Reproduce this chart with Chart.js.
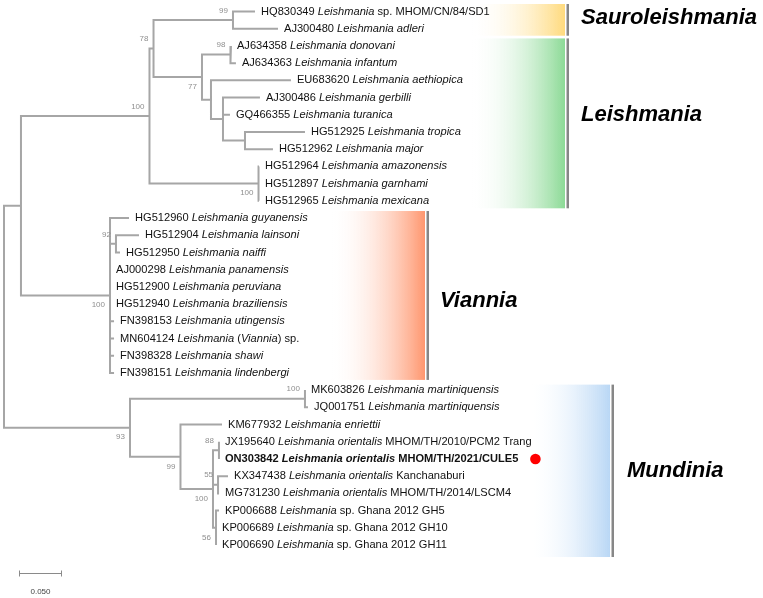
<!DOCTYPE html>
<html>
<head>
<meta charset="utf-8">
<script src="https://cdn.jsdelivr.net/npm/chart.js@4.4.0/dist/chart.umd.min.js"></script>
<style>
    html, body { margin: 0; padding: 0; background: #fff; }
    canvas { display: block; }
</style>
</head>
<body>
<canvas id="tree" width="763" height="598"></canvas>
<script>
// ── TREE DATA ─────────────────────────────────────────────────────────
// leaves, top to bottom (*...* = italic)
const LEAF_ACC = [
    'HQ830349', 'AJ300480', 'AJ634358', 'AJ634363', 'EU683620', 'AJ300486', 'GQ466355', 'HG512925',
    'HG512962', 'HG512964', 'HG512897', 'HG512965', 'HG512960', 'HG512904', 'HG512950', 'AJ000298',
    'HG512900', 'HG512940', 'FN398153', 'MN604124', 'FN398328', 'FN398151', 'MK603826', 'JQ001751',
    'KM677932', 'JX195640', 'ON303842', 'KX347438', 'MG731230', 'KP006688', 'KP006689', 'KP006690'
];
const LEAF_NAME = [
    '*Leishmania* sp. MHOM/CN/84/SD1', '*Leishmania adleri*', '*Leishmania donovani*', '*Leishmania infantum*',
    '*Leishmania aethiopica*', '*Leishmania gerbilli*', '*Leishmania turanica*', '*Leishmania tropica*',
    '*Leishmania major*', '*Leishmania amazonensis*', '*Leishmania garnhami*', '*Leishmania mexicana*',
    '*Leishmania guyanensis*', '*Leishmania lainsoni*', '*Leishmania naiffi*', '*Leishmania panamensis*',
    '*Leishmania peruviana*', '*Leishmania braziliensis*', '*Leishmania utingensis*', '*Leishmania* (*Viannia*) sp.',
    '*Leishmania shawi*', '*Leishmania lindenbergi*', '*Leishmania martiniquensis*', '*Leishmania martiniquensis*',
    '*Leishmania enriettii*', '*Leishmania orientalis* MHOM/TH/2010/PCM2 Trang', '*Leishmania orientalis* MHOM/TH/2021/CULE5',
    '*Leishmania orientalis* Kanchanaburi', '*Leishmania orientalis* MHOM/TH/2014/LSCM4',
    '*Leishmania* sp. Ghana 2012 GH5', '*Leishmania* sp. Ghana 2012 GH10', '*Leishmania* sp. Ghana 2012 GH11'
];
const LEAF_PARENT = [
    'SAU', 'SAU', 'DON', 'DON', 'N1', 'N2', 'N2', 'N3', 'N3', 'MEX', 'MEX', 'MEX', 'V', 'N92', 'N92', 'V',
    'V', 'V', 'V', 'V', 'V', 'V', 'MART', 'MART', 'C', 'E', 'E', 'F', 'F', 'G', 'G', 'G'
];
const LEAF_LEN = [
    0.0262, 0.0536, 0.0006, 0.0065, 0.0952, 0.0440, 0.0083, 0.0714,
    0.0333, 0.0006, 0.0006, 0.0006, 0.0226, 0.0274, 0.0048, 0.0000,
    0.0000, 0.0000, 0.0048, 0.0048, 0.0048, 0.0048, 0.0000, 0.0036,
    0.0494, 0.0000, 0.0000, 0.0119, 0.0012, 0.0036, 0.0000, 0.0000
];
const HIGHLIGHT_LEAF = 'ON303842';

// internal nodes
const NODE_ID      = ['ROOT', 'A',    'LS',   'N78', 'SAU', 'LC',  'DON', 'N1', 'N2', 'N3', 'MEX', 'V',    'N92', 'B',    'MART', 'C',    'D',    'E',    'F',    'G'];
const NODE_PARENT  = [null,   'ROOT', 'A',    'LS',  'N78', 'N78', 'LC',  'LC', 'N1', 'N2', 'LS',  'A',    'V',   'ROOT', 'B',    'B',    'C',    'D',    'D',    'D'];
const NODE_LEN     = [0,      0.0202, 0.1530, 0.0048, 0.0946, 0.0577, 0.0339, 0.0107, 0.0143, 0.0262, 0.1298, 0.1060, 0.0071, 0.1500, 0.2083, 0.0601, 0.0387, 0.0071, 0.0060, 0.0036];
const NODE_SUPPORT = [null,   null,   100,    78,    99,    77,    98,    null, null, null, 100,   100,    92,    93,     100,    99,     100,    88,     55,     56];

// clades
const CLADE_NAMES  = ['Sauroleishmania', 'Leishmania', 'Viannia', 'Mundinia'];
const CLADE_FIRST  = ['HQ830349', 'AJ634358', 'HG512960', 'MK603826'];
const CLADE_LAST   = ['AJ300480', 'HG512965', 'FN398151', 'KP006690'];
const CLADE_COLORS = ['#FFDA7D', '#8CDA96', '#FF966E', '#B9D7F5'];

const SCALE_BAR = 0.05;

// ── LAYOUT / STYLE ────────────────────────────────────────────────────
const W = 763, H = 598;
const PX_PER_UNIT = 840;
const ROOT_PX     = 4;
const FIRST_LEAF  = 11.5;
const LEAF_STEP   = 17.21;
const LINE_GRAY   = '#a6a6a6';
const FONT        = '"Liberation Sans", Arial, sans-serif';
const LEAF_SIZE   = 11.1;
const SUPPORT_SIDE = { LS: -1, N78: -1, SAU: -1, LC: 1, DON: -1, MEX: 1, V: 1, N92: -1, B: 1, MART: -1, C: 1, D: 1, E: -1, F: -1, G: 1 };
const CLADE_BOX_X  = [[470, 565], [470, 565], [330, 425], [525, 610]];
const CLADE_BOX_PAD = [[7.5, 7], [7.5, 7.5], [7, 7], [5.5, 12]];
const CLADE_TEXT_DX = [12, 12, 11, 13];
const CLADE_TEXT_DY = [-2, -8, 5.5, 3];

// ── BUILD TREE ────────────────────────────────────────────────────────
const nodes = {};
NODE_ID.forEach((id, i) => {
    nodes[id] = { id, parent: NODE_PARENT[i], len: NODE_LEN[i], support: NODE_SUPPORT[i], children: [], leaf: false };
});
LEAF_ACC.forEach((acc, i) => {
    nodes[acc] = { id: acc, parent: LEAF_PARENT[i], len: LEAF_LEN[i], children: [], leaf: true, y: i, name: LEAF_NAME[i] };
});
Object.values(nodes).forEach(n => { if (n.parent) nodes[n.parent].children.push(n); });

function layout(n, depth) {
    n.x = depth + n.len;
    if (!n.leaf) {
        n.children.forEach(c => layout(c, n.x));
        n.children.sort((a, b) => a.minY - b.minY);
        n.y = (n.children[0].y + n.children[n.children.length - 1].y) / 2;
        n.minY = n.children[0].minY;
    } else {
        n.minY = n.y;
    }
}
layout(nodes.ROOT, 0);

// branch polylines, separated by gaps
const branchData = [];
const GAP = { x: null, y: null };
Object.values(nodes).forEach(n => {
    if (n.leaf) return;
    const kids = n.children;
    const first = kids[0], last = kids[kids.length - 1];
    branchData.push({ x: first.x, y: first.y }, { x: n.x, y: first.y },
                    { x: n.x, y: last.y }, { x: last.x, y: last.y }, GAP);
    kids.slice(1, -1).forEach(c => {
        if (c.x > n.x) branchData.push({ x: n.x, y: c.y }, { x: c.x, y: c.y }, GAP);
    });
});

// ── DRAWING HELPERS ───────────────────────────────────────────────────
function richText(ctx, x, y, text, bold) {
    const parts = text.split('*');
    parts.forEach((p, i) => {
        if (!p) return;
        ctx.font = `${i % 2 ? 'italic ' : ''}${bold ? 'bold ' : ''}${LEAF_SIZE}px ${FONT}`;
        ctx.fillText(p, x, y);
        x += ctx.measureText(p).width;
    });
    return x;
}

const decor = {
    id: 'treeDecor',
    beforeDatasetsDraw(chart) {
        const { ctx, scales: { y: ys } } = chart;
        ctx.save();
        CLADE_NAMES.forEach((name, i) => {
            const y0 = ys.getPixelForValue(nodes[CLADE_FIRST[i]].y) - CLADE_BOX_PAD[i][0];
            const y1 = ys.getPixelForValue(nodes[CLADE_LAST[i]].y) + CLADE_BOX_PAD[i][1];
            const [bx0, bx1] = CLADE_BOX_X[i];
            const g = ctx.createLinearGradient(bx0, 0, bx1, 0);
            g.addColorStop(0, 'rgba(255,255,255,0)');
            g.addColorStop(1, CLADE_COLORS[i]);
            ctx.fillStyle = g;
            ctx.fillRect(bx0, y0, bx1 - bx0, y1 - y0);
            ctx.fillStyle = '#878787';
            ctx.fillRect(bx1 + 1.5, y0, 2.5, y1 - y0);
        });
        ctx.restore();
    },
    afterDatasetsDraw(chart) {
        const { ctx, scales: { x: xs, y: ys } } = chart;
        ctx.save();
        ctx.textBaseline = 'middle';

        // leaf labels
        ctx.fillStyle = '#111';
        ctx.textAlign = 'left';
        LEAF_ACC.forEach(acc => {
            const n = nodes[acc];
            const px = xs.getPixelForValue(n.x) + 6;
            const py = ys.getPixelForValue(n.y);
            const bold = acc === HIGHLIGHT_LEAF;
            const end = richText(ctx, px, py, acc + ' ' + n.name, bold);
            if (bold) {
                ctx.fillStyle = '#f00';
                ctx.beginPath();
                ctx.arc(end + 17, py, 5.3, 0, Math.PI * 2);
                ctx.fill();
                ctx.fillStyle = '#111';
            }
        });

        // bootstrap values
        ctx.font = `8px ${FONT}`;
        ctx.fillStyle = '#8f8f8f';
        ctx.textAlign = 'right';
        Object.values(nodes).forEach(n => {
            if (n.leaf || n.support == null) return;
            const px = xs.getPixelForValue(n.x) - 5;
            const py = ys.getPixelForValue(n.y) + SUPPORT_SIDE[n.id] * 9.5;
            ctx.fillText(String(n.support), px, py);
        });

        // clade names
        ctx.textAlign = 'left';
        ctx.fillStyle = '#000';
        ctx.font = `italic bold 22px ${FONT}`;
        CLADE_NAMES.forEach((name, i) => {
            const mid = (ys.getPixelForValue(nodes[CLADE_FIRST[i]].y) + ys.getPixelForValue(nodes[CLADE_LAST[i]].y)) / 2;
            ctx.fillText(name, CLADE_BOX_X[i][1] + 4 + CLADE_TEXT_DX[i], mid + CLADE_TEXT_DY[i]);
        });

        // scale bar
        const sx0 = 19.5;
        const sx1 = xs.getPixelForValue(xs.getValueForPixel(sx0) + SCALE_BAR);
        const sy = 573.5;
        ctx.strokeStyle = '#8a8a8a';
        ctx.lineWidth = 1;
        ctx.beginPath();
        ctx.moveTo(sx0, sy); ctx.lineTo(sx1, sy);
        ctx.moveTo(sx0, sy - 3); ctx.lineTo(sx0, sy + 3);
        ctx.moveTo(sx1, sy - 3); ctx.lineTo(sx1, sy + 3);
        ctx.stroke();
        ctx.fillStyle = '#444';
        ctx.font = `8px ${FONT}`;
        ctx.textAlign = 'center';
        ctx.fillText(SCALE_BAR.toFixed(3), (sx0 + sx1) / 2, 592);

        ctx.restore();
    }
};

// ── CHART ─────────────────────────────────────────────────────────────
new Chart(document.getElementById('tree'), {
    type: 'line',
    data: {
        datasets: [{
            data: branchData,
            borderColor: LINE_GRAY,
            borderWidth: 2,
            pointRadius: 0,
            pointHoverRadius: 0,
            spanGaps: false,
            tension: 0,
            fill: false,
            borderJoinStyle: 'miter'
        }]
    },
    options: {
        responsive: false,
        animation: false,
        events: [],
        layout: { padding: 0 },
        plugins: { legend: { display: false }, tooltip: { enabled: false } },
        scales: {
            x: {
                type: 'linear',
                display: false,
                min: -ROOT_PX / PX_PER_UNIT,
                max: (W - ROOT_PX) / PX_PER_UNIT
            },
            y: {
                type: 'linear',
                display: false,
                reverse: true,
                min: -FIRST_LEAF / LEAF_STEP,
                max: (H - FIRST_LEAF) / LEAF_STEP
            }
        }
    },
    plugins: [decor]
});
</script>
</body>
</html>
